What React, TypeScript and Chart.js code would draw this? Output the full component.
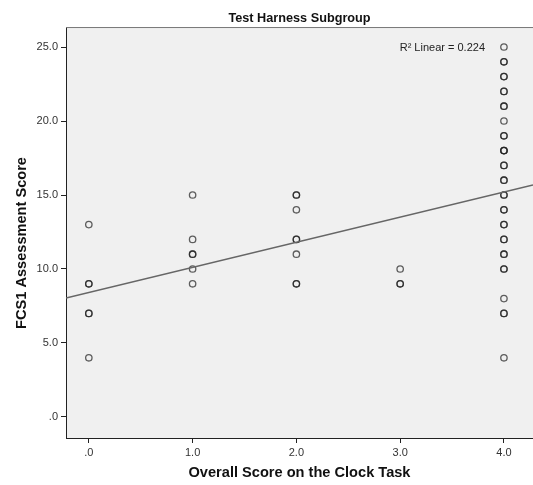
import React, { useEffect, useRef } from "react";
import { Chart, registerables } from "chart.js";

Chart.register(...registerables);

// Data (repeated entries = overlapping cases)
const clockScores0 = [13, 9, 9, 7, 7, 4];
const clockScores1 = [15, 12, 11, 11, 10, 9];
const clockScores2 = [15, 15, 14, 12, 12, 11, 9, 9];
const clockScores3 = [10, 9, 9];
const clockScores4 = [25, 24, 24, 23, 23, 22, 22, 21, 21, 20, 19, 19, 18, 18, 18, 17, 17, 16, 16, 15, 15, 14, 14, 13, 13, 12, 12, 11, 11, 10, 10, 8, 7, 7, 4];
const clockCategories = [0, 1, 2, 3, 4];
const fitLineX = [-0.22, 4.28];
const fitLineY = [8.04, 15.68];
const xTicks = [0, 1, 2, 3, 4];
const yTicks = [0, 5, 10, 15, 20, 25];
const chartTitle = "Test Harness Subgroup";
const xTitle = "Overall Score on the Clock Task";
const yTitle = "FCS1 Assessment Score";
const r2Label = "R\u00B2 Linear = 0.224";

const fmt = (v: number) => (v === 0 ? ".0" : v.toFixed(1));
const FONT = "'Liberation Sans', Arial, sans-serif";

export default function App() {
  const ref = useRef<HTMLCanvasElement | null>(null);

  useEffect(() => {
    if (!ref.current) return;
    const groups = [clockScores0, clockScores1, clockScores2, clockScores3, clockScores4];
    const points: { x: number; y: number }[] = [];
    groups.forEach((g, i) => g.forEach((v) => points.push({ x: clockCategories[i], y: v })));

    const bgPlugin = {
      id: "bgPlugin",
      beforeDraw(chart: any) {
        const { ctx, chartArea } = chart;
        ctx.save();
        ctx.fillStyle = "#f0f0f0";
        ctx.fillRect(chartArea.left, chartArea.top, chartArea.right - chartArea.left, chartArea.bottom - chartArea.top);
        ctx.restore();
      },
      afterDraw(chart: any) {
        const { ctx, chartArea } = chart;
        ctx.save();
        ctx.strokeStyle = "#777";
        ctx.lineWidth = 1;
        ctx.beginPath();
        ctx.moveTo(chartArea.left, chartArea.top + 0.5);
        ctx.lineTo(chartArea.right, chartArea.top + 0.5);
        ctx.stroke();
        ctx.fillStyle = "#222";
        ctx.font = "11px " + FONT;
        ctx.textAlign = "right";
        ctx.textBaseline = "middle";
        ctx.fillText(r2Label, 485, 48);
        // y axis title
        ctx.translate(22, 243);
        ctx.rotate(-Math.PI / 2);
        ctx.fillStyle = "#111";
        ctx.font = "bold 14.6px " + FONT;
        ctx.textAlign = "center";
        ctx.fillText(yTitle, 0, 0);
        ctx.restore();
      },
    };

    const chart = new Chart(ref.current, {
      type: "scatter",
      data: {
        datasets: [
          {
            label: "FCS1",
            data: points,
            pointRadius: 3.2,
            pointBorderWidth: 1.3,
            borderColor: "rgba(30,30,30,0.7)",
            backgroundColor: "rgba(0,0,0,0)",
            pointBackgroundColor: "rgba(0,0,0,0)",
            order: 2,
          },
          {
            type: "line",
            label: "Fit",
            data: fitLineX.map((x, i) => ({ x, y: fitLineY[i] })),
            borderColor: "#666",
            borderWidth: 1.6,
            pointRadius: 0,
            fill: false,
            order: 1,
          } as any,
        ],
      },
      options: {
        animation: false,
        responsive: false,
        maintainAspectRatio: false,
        layout: { padding: 0, autoPadding: false },
        plugins: {
          legend: { display: false },
          tooltip: { enabled: false },
          title: {
            display: true,
            fullSize: false,
            text: chartTitle,
            color: "#111",
            font: { family: FONT, size: 12.7, weight: "bold" },
            padding: { top: 10.5, bottom: 1.3 },
          },
        },
        scales: {
          x: {
            type: "linear",
            min: -0.22,
            max: 4.28,
            afterBuildTicks: (s: any) => {
              s.ticks = xTicks.map((v) => ({ value: v }));
            },
            afterFit: (s: any) => {
              s.height = 47;
              s.paddingRight = 0;
              s.paddingLeft = 0;
            },
            ticks: {
              callback: (v: any) => fmt(Number(v)),
              color: "#333",
              font: { family: FONT, size: 11 },
              padding: 3,
              maxRotation: 0,
              autoSkip: false,
            },
            grid: { drawOnChartArea: false, drawTicks: true, tickLength: 5, color: "#222" },
            border: { display: true, color: "#222", width: 1 },
            title: {
              display: true,
              text: xTitle,
              color: "#111",
              font: { family: FONT, size: 14.6, weight: "bold" },
              padding: { top: 0, bottom: 3.3 },
            },
          },
          y: {
            type: "linear",
            min: -1.42,
            max: 26.35,
            afterBuildTicks: (s: any) => {
              s.ticks = yTicks.map((v) => ({ value: v }));
            },
            afterFit: (s: any) => {
              s.width = 66;
              s.paddingTop = 0;
              s.paddingBottom = 0;
            },
            ticks: {
              callback: (v: any) => fmt(Number(v)),
              color: "#333",
              font: { family: FONT, size: 11 },
              padding: 3,
              autoSkip: false,
            },
            grid: { drawOnChartArea: false, drawTicks: true, tickLength: 5, color: "#222" },
            border: { display: true, color: "#222", width: 1 },
            title: { display: false, text: yTitle },
          },
        },
      },
      plugins: [bgPlugin],
    } as any);

    return () => chart.destroy();
  }, []);

  return (
    <div style={{ position: "absolute", left: 0, top: 0, width: 533, height: 485, background: "#fff" }}>
      <canvas ref={ref} width={533} height={485} style={{ display: "block", width: 533, height: 485 }} />
    </div>
  );
}
